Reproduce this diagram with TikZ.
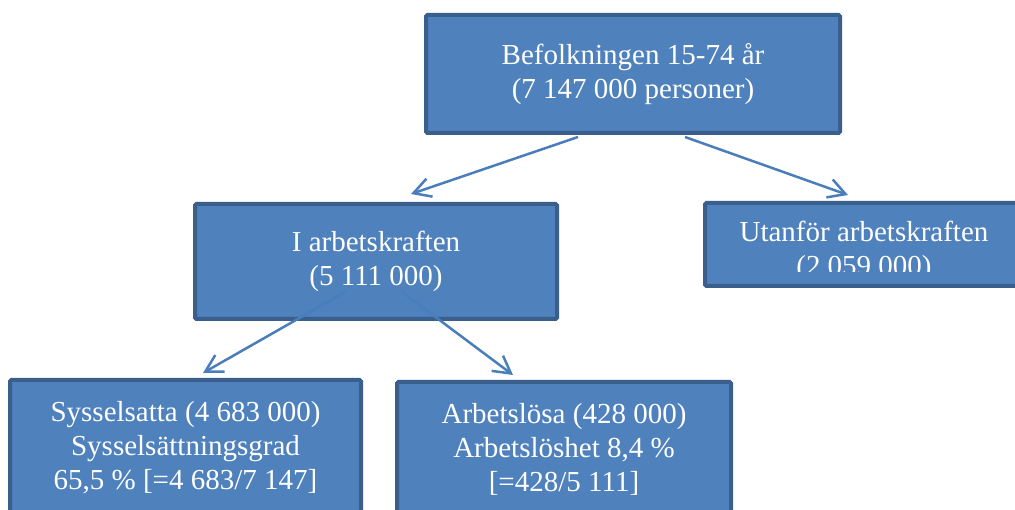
\documentclass[tikz,border=0pt]{standalone}
\usepackage{fontspec}
\setmainfont{Liberation Serif}
\usetikzlibrary{arrows.meta}
\definecolor{boxfill}{HTML}{4F81BD}
\definecolor{boxline}{HTML}{3A5F8C}
\definecolor{arrowcol}{HTML}{4A7EBB}
\tikzset{
  blbox/.style={draw=boxline, fill=boxfill, line width=4pt, rounded corners=1.5pt,
    inner sep=0pt, text=white, align=center,
    font=\fontsize{29}{34}\selectfont},
  blarrow/.style={draw=arrowcol, line width=2.5pt,
    -{Straight Barb[length=17pt,width=19pt,line width=2.5pt]}},
}
\begin{document}
\begin{tikzpicture}[x=1pt,y=-1pt]
\clip (0,0) rectangle (1015,510);
\fill[white] (0,0) rectangle (1015,510);
% boxes
\node[blbox, minimum width=414pt, minimum height=118pt] (top) at (633,74)
  {Befolkningen 15-74 år\\(7 147 000 personer)};
\node[blbox, minimum width=362pt, minimum height=115pt] (mid) at (376,261.5)
  {I arbetskraften\\(5 111 000)};
\node[blbox, minimum width=318pt, minimum height=83pt] (utan) at (864,244.5) {};
\begin{scope}
  \clip (700,200) rectangle (1015,272);
  \node[text=white, align=center, inner sep=0pt, font=\fontsize{29}{34}\selectfont]
    (utantext) at (864,251) {Utanför arbetskraften\\(2 059 000)};
\end{scope}
\node[blbox, minimum width=351pt, minimum height=136pt] (syss) at (185.5,448)
  {Sysselsatta (4 683 000)\\Sysselsättningsgrad\\65,5 \% [=4 683/7 147]};
\node[blbox, minimum width=334pt, minimum height=134pt] (arbl) at (564,449)
  {Arbetslösa (428 000)\\Arbetslöshet 8,4 \%\\{}[=428/5 111]};
% arrows
\draw[blarrow] ([xshift=-55pt,yshift=-2pt]top.south) -- ([xshift=218pt,yshift=8pt]mid.north west);
\draw[blarrow] ([xshift=52pt,yshift=-2pt]top.south) -- ([xshift=145pt,yshift=6pt]utan.north west);
\draw[blarrow] ([xshift=-31pt,yshift=29pt]mid.south) -- ([xshift=195pt,yshift=5pt]syss.north west);
\draw[blarrow] ([xshift=26pt,yshift=29pt]mid.south) -- ([xshift=118pt,yshift=5pt]arbl.north west);
\end{tikzpicture}
\end{document}
